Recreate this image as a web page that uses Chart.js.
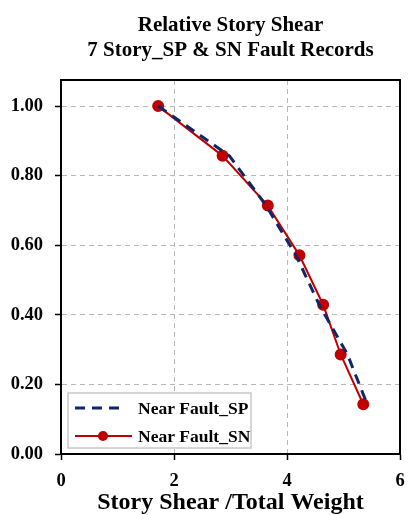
<!DOCTYPE html>
<html>
<head>
<meta charset="utf-8">
<script src="https://cdn.jsdelivr.net/npm/chart.js@4/dist/chart.umd.min.js"></script>
<style>
  html, body { margin: 0; padding: 0; background: #fff; }
  #wrap { width: 415px; height: 515px; }
</style>
</head>
<body>
<div id="wrap"><canvas id="c" width="415" height="515"></canvas></div>
<script>
// Chart text
const titleLines = ['Relative Story Shear', '7 Story_SP & SN Fault Records'];
const xAxisTitle = 'Story Shear /Total Weight';
const seriesNames = ['Near Fault_SP', 'Near Fault_SN'];

// Relative story level (story / 7), top story first
const storyRatio = [1.000, 0.857, 0.714, 0.571, 0.429, 0.286, 0.143];
// Story shear / total weight for each record set
const shearSP = [1.72, 2.98, 3.63, 4.16, 4.57, 5.07, 5.42];
const shearSN = [1.72, 2.86, 3.66, 4.22, 4.64, 4.95, 5.35];

// Axis ticks
const xTicks = [0, 2, 4, 6];
const yTicks = [0.0, 0.2, 0.4, 0.6, 0.8, 1.0];

const serif = "'Liberation Serif', 'Times New Roman', serif";
const toPoints = (xs) => xs.map((x, i) => ({ x: x, y: storyRatio[i] }));

// Black frame around the plotting area
const plotFrame = {
  id: 'plotFrame',
  beforeDatasetsDraw(chart) {
    const { ctx, chartArea: a } = chart;
    ctx.save();
    ctx.strokeStyle = '#000';
    ctx.lineWidth = 2;
    ctx.setLineDash([]);
    ctx.strokeRect(a.left, a.top, a.right - a.left, a.bottom - a.top);
    ctx.restore();
  }
};

// Boxed legend inside the lower-left corner of the plot
const insetLegend = {
  id: 'insetLegend',
  afterDatasetsDraw(chart) {
    const { ctx, chartArea: a } = chart;
    const w = 183, h = 55;
    const x = a.left + 7, y = a.bottom - 6 - h;
    ctx.save();
    ctx.fillStyle = '#fff';
    ctx.fillRect(x, y, w, h);
    ctx.strokeStyle = '#c8c8c8';
    ctx.lineWidth = 1.5;
    ctx.setLineDash([]);
    ctx.strokeRect(x, y, w, h);
    chart.data.datasets.forEach((ds, i) => {
      const cy = y + 15 + i * 28;
      const x0 = x + 7;
      const x1 = ds.pointRadius > 0 ? x0 + 57 : x0 + 47;
      ctx.setLineDash(ds.borderDash || []);
      ctx.strokeStyle = ds.borderColor;
      ctx.lineWidth = ds.borderWidth;
      ctx.beginPath();
      ctx.moveTo(x0, cy);
      ctx.lineTo(x1, cy);
      ctx.stroke();
      ctx.setLineDash([]);
      if (ds.pointRadius > 0) {
        ctx.fillStyle = ds.pointBackgroundColor;
        ctx.beginPath();
        ctx.arc(x0 + 28, cy, ds.pointRadius, 0, Math.PI * 2);
        ctx.fill();
      }
      ctx.fillStyle = '#000';
      ctx.font = 'bold 17.5px ' + serif;
      ctx.textAlign = 'left';
      ctx.textBaseline = 'middle';
      ctx.fillText(ds.label, x + 70, cy + 1);
    });
    ctx.restore();
  }
};

new Chart(document.getElementById('c'), {
  type: 'line',
  data: {
    datasets: [
      {
        label: seriesNames[0],
        data: toPoints(shearSP),
        borderColor: '#0e2766',
        borderWidth: 3,
        borderDash: [10, 7],
        pointRadius: 0,
        fill: false,
        tension: 0
      },
      {
        label: seriesNames[1],
        data: toPoints(shearSN),
        borderColor: '#c00000',
        borderWidth: 2,
        pointRadius: 5,
        pointBackgroundColor: '#c00000',
        pointBorderColor: '#c00000',
        fill: false,
        tension: 0
      }
    ]
  },
  options: {
    responsive: false,
    animation: false,
    layout: { padding: { left: 0, right: 15, top: 0, bottom: 0 } },
    plugins: {
      legend: { display: false },
      tooltip: { enabled: false },
      title: {
        display: true,
        fullSize: false,
        text: titleLines,
        color: '#000',
        font: { family: serif, size: 21, weight: 'bold', lineHeight: 1.2 },
        padding: { top: 13, bottom: 16.6 }
      }
    },
    scales: {
      x: {
        type: 'linear',
        min: 0,
        max: 6,
        afterBuildTicks: (s) => { s.ticks = xTicks.map(v => ({ value: v })); },
        afterFit: (s) => { s.height = 61; },
        ticks: {
          color: '#000',
          padding: 10,
          font: { family: serif, size: 18.5, weight: 'bold' },
          callback: (v) => String(v)
        },
        grid: {
          color: '#b8b8b8',
          lineWidth: 1,
          drawTicks: true,
          tickLength: 6,
          tickColor: '#000',
          tickWidth: 1.5
        },
        border: { display: true, color: '#000', width: 2, dash: [5, 4] },
        title: {
          display: true,
          text: xAxisTitle,
          color: '#000',
          font: { family: serif, size: 24, weight: 'bold', lineHeight: 1.0 },
          padding: { top: 0, bottom: 0 }
        }
      },
      y: {
        type: 'linear',
        min: 0,
        max: 1.075,
        afterBuildTicks: (s) => { s.ticks = yTicks.map(v => ({ value: v })); },
        afterFit: (s) => { s.width = 61; },
        ticks: {
          color: '#000',
          padding: 12,
          font: { family: serif, size: 18.5, weight: 'bold' },
          callback: (v) => Number(v).toFixed(2)
        },
        grid: {
          color: '#b8b8b8',
          lineWidth: 1,
          drawTicks: true,
          tickLength: 6,
          tickColor: '#000',
          tickWidth: 1.5
        },
        border: { display: true, color: '#000', width: 2, dash: [5, 4] }
      }
    }
  },
  plugins: [plotFrame, insetLegend]
});
</script>
</body>
</html>
